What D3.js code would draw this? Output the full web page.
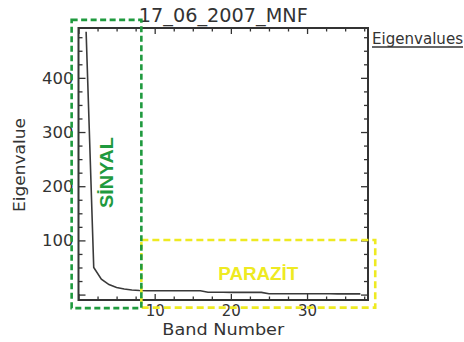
<!DOCTYPE html>
<html>
<head>
<meta charset="utf-8">
<script src="https://cdn.jsdelivr.net/npm/d3@7"></script>
<style>
html,body{margin:0;padding:0;background:#fff;}
svg{display:block;}
text{font-family:"DejaVu Sans",sans-serif;fill:#333;}
</style>
</head>
<body>
<svg id="chart" width="464" height="342"></svg>
<script>
// ---- data ----
const bands = d3.range(1, 38);
const eigenvalues = [485, 50, 28.5, 18.5, 13, 10.4, 8.5, 7.4, 7.2, 7.2, 7.2, 7.1, 7.1, 7.1, 7.0, 7.0,
  4.2, 4.2, 4.2, 4.1, 4.1, 4.1, 4.0, 4.0,
  1.5, 1.5, 1.5, 1.5, 1.5, 1.4, 1.4, 1.4, 1.4, 1.3, 1.3, 1.3, 1.3];
const xMajorTicks = [0, 10, 20, 30];
const xTickLabels = ["", "10", "20", "30"];
const yMajorTicks = [0, 100, 200, 300, 400];
const yTickLabels = ["", "100", "200", "300", "400"];
const title = "17_06_2007_MNF";
const xTitle = "Band Number";
const yTitle = "Eigenvalue";
const legendTitle = "Eigenvalues";
// annotation regions, in data units: [x0, x1, y0, y1]
const signalBox = [-0.9, 8.25, -25, 507];
const noiseBox = [8.25, 38.95, -24, 100.7];
const signalLabel = "SİNYAL";
const noiseLabel = "PARAZİT";

// ---- scales ----
const svg = d3.select("#chart");
const L = 78.5, R = 368, T = 28, B = 300;
const x = d3.scaleLinear().domain([0, 38]).range([L, R]);
const y = d3.scaleLinear().domain([-10, 492]).range([B, T]);
const ink = "#333";

const xMinor = d3.range(0, 38.01, 2.5).filter(v => v % 10 !== 0);
const yMinor = d3.range(0, 492, 25).filter(v => v % 100 !== 0);

function styleAxis(g) {
  g.select(".domain").remove();
  g.selectAll("line").attr("stroke", ink).attr("stroke-width", 1.3);
  g.selectAll("text").attr("fill", ink).style("font-family", "DejaVu Sans");
}

// bottom
svg.append("g").attr("transform", `translate(0,${B})`)
  .call(d3.axisBottom(x).tickValues(xMajorTicks).tickSizeInner(-6).tickSizeOuter(0).tickPadding(5)
    .tickFormat((d, i) => xTickLabels[i]))
  .call(g => { styleAxis(g); g.selectAll("text").style("font-size", "15px"); });
svg.append("g").attr("transform", `translate(0,${B})`)
  .call(d3.axisBottom(x).tickValues(xMinor).tickSizeInner(-3.5).tickSizeOuter(0).tickFormat(""))
  .call(styleAxis);
// top
svg.append("g").attr("transform", `translate(0,${T})`)
  .call(d3.axisTop(x).tickValues(xMajorTicks).tickSizeInner(-6).tickSizeOuter(0).tickFormat(""))
  .call(styleAxis);
svg.append("g").attr("transform", `translate(0,${T})`)
  .call(d3.axisTop(x).tickValues(xMinor).tickSizeInner(-3.5).tickSizeOuter(0).tickFormat(""))
  .call(styleAxis);
// left
svg.append("g").attr("transform", `translate(${L},0)`)
  .call(d3.axisLeft(y).tickValues(yMajorTicks).tickSizeInner(-7).tickSizeOuter(0).tickPadding(5)
    .tickFormat((d, i) => yTickLabels[i]))
  .call(g => { styleAxis(g); g.selectAll("text").style("font-size", "16.5px"); });
svg.append("g").attr("transform", `translate(${L},0)`)
  .call(d3.axisLeft(y).tickValues(yMinor).tickSizeInner(-4).tickSizeOuter(0).tickFormat(""))
  .call(styleAxis);
// right
svg.append("g").attr("transform", `translate(${R},0)`)
  .call(d3.axisRight(y).tickValues(yMajorTicks).tickSizeInner(-7).tickSizeOuter(0).tickFormat(""))
  .call(styleAxis);
svg.append("g").attr("transform", `translate(${R},0)`)
  .call(d3.axisRight(y).tickValues(yMinor).tickSizeInner(-4).tickSizeOuter(0).tickFormat(""))
  .call(styleAxis);

// frame
svg.append("rect").attr("x", L).attr("y", T).attr("width", R - L).attr("height", B - T)
  .attr("fill", "none").attr("stroke", ink).attr("stroke-width", 2);

// data line
const data = bands.map((b, i) => ({ b, v: eigenvalues[i] }));
svg.append("path").datum(data)
  .attr("fill", "none").attr("stroke", "#3a3a3a").attr("stroke-width", 1.6)
  .attr("d", d3.line().x(d => x(d.b)).y(d => y(d.v)));

// titles
svg.append("text").attr("x", (L + R) / 2).attr("y", 22).attr("text-anchor", "middle")
  .attr("textLength", 169).attr("lengthAdjust", "spacingAndGlyphs")
  .style("font-size", "19px").text(title);
svg.append("text").attr("x", (L + R) / 2).attr("y", 335).attr("text-anchor", "middle")
  .attr("textLength", 122).attr("lengthAdjust", "spacingAndGlyphs")
  .style("font-size", "16px").text(xTitle);
svg.append("text").attr("transform", `translate(25,165) rotate(-90)`).attr("text-anchor", "middle")
  .attr("textLength", 94).attr("lengthAdjust", "spacingAndGlyphs")
  .style("font-size", "16.5px").text(yTitle);
svg.append("text").attr("x", 372).attr("y", 43.5)
  .attr("textLength", 91).attr("lengthAdjust", "spacingAndGlyphs")
  .style("font-size", "15px").text(legendTitle);
svg.append("line").attr("x1", 372).attr("x2", 463).attr("y1", 47).attr("y2", 47)
  .attr("stroke", ink).attr("stroke-width", 1.4);

// annotation boxes
const green = "#1f9a3e", yellow = "#eeea22";
function box(b, color, dash) {
  svg.append("rect")
    .attr("x", x(b[0])).attr("y", y(b[3]))
    .attr("width", x(b[1]) - x(b[0])).attr("height", y(b[2]) - y(b[3]))
    .attr("fill", "none").attr("stroke", color).attr("stroke-width", 2.6)
    .attr("stroke-dasharray", dash);
}
box(noiseBox, yellow, "7,4");
box(signalBox, green, "6,3.5");

svg.append("text").attr("transform", `translate(112.5,172.5) rotate(-90)`)
  .attr("text-anchor", "middle").attr("textLength", 71).attr("lengthAdjust", "spacingAndGlyphs")
  .style("font-family", "Liberation Sans, Arial, sans-serif").style("font-weight", "bold")
  .style("font-size", "18.5px").style("fill", green).text(signalLabel);
svg.append("text").attr("x", 258.3).attr("y", 280)
  .attr("text-anchor", "middle").attr("textLength", 80).attr("lengthAdjust", "spacingAndGlyphs")
  .style("font-family", "Liberation Sans, Arial, sans-serif").style("font-weight", "bold")
  .style("font-size", "18.5px").style("fill", yellow).text(noiseLabel);
</script>
</body>
</html>
